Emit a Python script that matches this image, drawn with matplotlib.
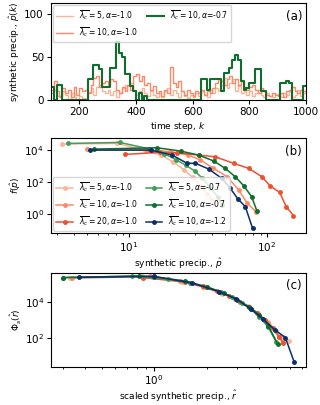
import numpy as np
import matplotlib
matplotlib.use("Agg")
import matplotlib.pyplot as plt
from matplotlib.ticker import NullLocator

# ---- panel (a): synthetic precipitation time series (value per 10 time steps)
T_START, T_STEP = 100, 10
SERIES_A_LABELS = [
    r"$\overline{\lambda_c}=5, \alpha$=-1.0",
    r"$\overline{\lambda_c}=10, \alpha$=-1.0",
    r"$\overline{\lambda_c}=10, \alpha$=-0.7",
]
P_L5_A10 = [8, 12, 5, 3, 10, 6, 0, 8, 4, 0,
            5, 2, 0, 9, 14, 6, 15, 18, 10, 8,
            12, 6, 10, 4, 8, 14, 18, 16, 20, 12,
            6, 10, 14, 8, 5, 10, 6, 3, 8, 4,
            10, 14, 6, 12, 8, 4, 10, 5, 2, 6,
            3, 8, 5, 10, 6, 4, 12, 8, 14, 10,
            18, 26, 14, 20, 25, 10, 16, 8, 12, 6,
            10, 5, 8, 12, 6, 3, 8, 5, 4, 7,
            5, 3, 8, 6, 10, 4, 6, 12, 5, 8]
P_L10_A10 = [12, 22, 10, 5, 14, 8, 12, 4, 15, 6,
             14, 10, 12, 8, 18, 26, 28, 15, 20, 22,
             18, 25, 22, 12, 8, 15, 10, 18, 12, 28,
             30, 22, 28, 18, 20, 12, 16, 8, 10, 5,
             12, 8, 38, 20, 15, 22, 10, 6, 12, 8,
             5, 10, 8, 12, 6, 10, 8, 14, 20, 25,
             22, 18, 24, 28, 20, 25, 18, 22, 15, 12,
             15, 18, 12, 8, 14, 10, 6, 5, 8, 6,
             5, 8, 4, 10, 12, 15, 10, 8, 12, 10]
P_L10_A07 = [15, 0, 18, 18, 0, 0, 0, 0, 0, 0,
             0, 0, 0, 24, 24, 41, 41, 36, 15, 15,
             15, 37, 37, 67, 55, 50, 30, 30, 16, 10,
             0, 8, 0, 5, 0, 0, 0, 0, 0, 0,
             0, 0, 0, 0, 0, 0, 0, 0, 0, 0,
             0, 0, 0, 24, 24, 12, 24, 24, 24, 24,
             10, 31, 31, 37, 46, 52, 46, 22, 12, 14,
             20, 20, 36, 36, 10, 10, 0, 0, 0, 0,
             0, 20, 20, 22, 20, 0, 0, 0, 0, 16]

# ---- panel (b): distributions f(p)
LABELS_B = [
    r"$\overline{\lambda_c}=5, \alpha$=-1.0",
    r"$\overline{\lambda_c}=10, \alpha$=-1.0",
    r"$\overline{\lambda_c}=20, \alpha$=-1.0",
    r"$\overline{\lambda_c}=5, \alpha$=-0.7",
    r"$\overline{\lambda_c}=10, \alpha$=-0.7",
    r"$\overline{\lambda_c}=10, \alpha$=-1.2",
]
P_B = [
    [3.3, 8.2, 13.0, 17.0, 21.0, 25.0, 29.0, 33.0, 37.0, 40.0],
    [5.0, 13.6, 20.0, 27.0, 33.0, 41.0, 51.5, 62.5, 72.0, 84.0],
    [9.3, 16.9, 22.4, 32.0, 42.4, 57.4, 73.8, 92.0, 106.0, 124.0, 138.0, 156.0],
    [3.6, 8.6, 14.0, 18.0, 22.0, 26.0, 30.0, 34.0, 39.0, 44.0, 47.0],
    [5.6, 16.0, 23.7, 32.0, 41.2, 50.0, 59.0, 68.0, 77.5, 85.0],
    [5.2, 14.4, 20.6, 26.4, 30.4, 37.9, 47.3, 54.3, 61.6, 69.8, 78.9],
]
F_B = [
    [2.4e4, 2.6e4, 1.0e4, 5.0e3, 1.8e3, 6.0e2, 2.0e2, 60, 18, 8],
    [1.1e4, 1.0e4, 8.0e3, 4.9e3, 2.4e3, 7.3e2, 2.2e2, 33, 4.9, 1.35],
    [5.4e3, 7.2e3, 6.8e3, 4.9e3, 3.8e3, 1.5e3, 7.3e2, 2.2e2, 57, 23, 3.0, 0.83],
    [2.6e4, 3.0e4, 1.2e4, 6.0e3, 2.5e3, 1.1e3, 5.0e2, 1.8e2, 45, 12, 4],
    [1.15e4, 1.4e4, 8.7e3, 4.9e3, 2.1e3, 7.2e2, 2.2e2, 60, 12.6, 1.5],
    [1.0e4, 1.0e4, 4.9e3, 1.5e3, 1.5e3, 6.6e2, 1.7e2, 42, 9.1, 3.0, 0.13],
]

# ---- panel (c): collapsed distributions
R_C = [
    [0.33, 0.85, 1.45, 1.95, 2.45, 2.95, 3.45, 3.95, 4.5, 5.0, 5.5, 5.9],
    [0.34, 0.95, 1.4, 1.9, 2.35, 2.9, 3.6, 4.5, 5.2, 5.45],
    [0.86, 1.5, 1.9, 2.3, 2.7, 3.1, 3.5, 3.9, 4.3, 4.8, 5.2, 5.45],
    [0.3, 0.75, 1.2, 1.6, 2.0, 2.4, 2.8, 3.2, 3.6, 4.0, 4.5, 5.0],
    [0.3, 0.82, 1.0, 1.5, 2.0, 2.5, 3.0, 3.5, 4.0, 4.5, 5.1],
    [0.37, 1.0, 1.64, 2.35, 2.95, 3.6, 4.19, 4.9, 5.64, 6.35],
]
PHI_C = [
    [2.4e5, 3.0e5, 1.5e5, 7.0e4, 3.0e4, 1.5e4, 6.5e3, 2.5e3, 8.0e2, 2.5e2, 1.2e2, 68],
    [2.3e5, 2.9e5, 1.6e5, 7.5e4, 4.0e4, 1.6e4, 4.5e3, 7.0e2, 1.1e2, 60],
    [2.5e5, 1.4e5, 8.0e4, 4.2e4, 2.3e4, 1.1e4, 5.5e3, 2.5e3, 1.0e3, 3.5e2, 1.2e2, 55],
    [2.5e5, 3.0e5, 2.0e5, 1.3e5, 7.5e4, 4.0e4, 2.0e4, 9.0e3, 4.0e3, 1.6e3, 4.0e2, 60],
    [2.5e5, 3.1e5, 2.8e5, 1.6e5, 7.5e4, 3.3e4, 1.4e4, 5.5e3, 2.0e3, 5.0e2, 45],
    [2.6e5, 2.9e5, 1.25e5, 4.1e4, 1.6e4, 4.0e3, 1.2e3, 2.9e2, 1.05e2, 4.2],
]

COLORS = ["#fcb499", "#fb8a6a", "#ef4f2e", "#3f9e58", "#0f6d2d", "#0a2f6b"]

plt.rcParams.update({"font.family": "DejaVu Sans", "font.size": 7})

fig = plt.figure(figsize=(3.2, 4.05), dpi=100)

# ---------------- (a)
ax_a = fig.add_axes([0.159, 0.753, 0.797, 0.240])
t = T_START + T_STEP * np.arange(len(P_L5_A10) + 1)
for vals, col, lw, lab in [(P_L5_A10, COLORS[0], 1.0, SERIES_A_LABELS[0]),
                           (P_L10_A10, COLORS[1], 1.0, SERIES_A_LABELS[1]),
                           (P_L10_A07, COLORS[4], 1.5, SERIES_A_LABELS[2])]:
    ax_a.step(t, list(vals) + [vals[-1]], where="post", color=col, lw=lw, label=lab)
ax_a.set_xlim(100, 1000)
ax_a.set_ylim(0, 113)
ax_a.set_xticks([200, 400, 600, 800, 1000])
ax_a.set_yticks([0, 50, 100])
ax_a.set_xlabel(r"time step, $k$", fontsize=6.5, labelpad=2)
ax_a.set_ylabel(r"synthetic precip., $\hat{p}(k)$", fontsize=6.5, labelpad=2)
ax_a.tick_params(labelsize=7.5, length=3, pad=2)
ax_a.legend(loc="upper left", ncol=2, fontsize=5.5, handlelength=2.2,
            columnspacing=1.2, borderaxespad=0.3, labelspacing=0.5)
ax_a.text(0.985, 0.93, "(a)", transform=ax_a.transAxes, ha="right", va="top", fontsize=8.5)

# ---------------- (b)
ax_b = fig.add_axes([0.159, 0.425, 0.797, 0.234])
for p, f, col, lab in zip(P_B, F_B, COLORS, LABELS_B):
    ax_b.plot(p, f, "-o", color=col, lw=1.1, ms=2.5, label=lab)
ax_b.set_xscale("log")
ax_b.set_yscale("log")
ax_b.set_xlim(2.72, 192)
ax_b.set_ylim(0.069, 5.6e4)
ax_b.set_yticks([1, 1e2, 1e4])
ax_b.yaxis.set_minor_locator(NullLocator())
ax_b.set_xlabel(r"synthetic precip., $\hat{p}$", fontsize=6.5, labelpad=2)
ax_b.set_ylabel(r"$f(\hat{p})$", fontsize=6.5, labelpad=1)
ax_b.tick_params(labelsize=7.5, length=3, pad=2)
ax_b.tick_params(which="minor", length=1.5)
ax_b.legend(loc="lower left", ncol=2, fontsize=5.5, handlelength=2.2,
            columnspacing=1.0, borderaxespad=0.3, labelspacing=0.45,
            bbox_to_anchor=(0.0, 0.0))
ax_b.text(0.985, 0.93, "(b)", transform=ax_b.transAxes, ha="right", va="top", fontsize=8.5)

# ---------------- (c)
ax_c = fig.add_axes([0.159, 0.095, 0.797, 0.232])
for r, phi, col in zip(R_C, PHI_C, COLORS):
    ax_c.plot(r, phi, "-o", color=col, lw=1.1, ms=2.5)
ax_c.set_xscale("log")
ax_c.set_yscale("log")
ax_c.set_xlim(0.256, 7.4)
ax_c.set_ylim(2.45, 4.8e5)
ax_c.set_yticks([1e2, 1e4])
ax_c.yaxis.set_minor_locator(NullLocator())
ax_c.set_xticks([1])
ax_c.set_xlabel(r"scaled synthetic precip., $\hat{r}$", fontsize=6.5, labelpad=1)
ax_c.set_ylabel(r"$\Phi_s(\hat{r})$", fontsize=6.5, labelpad=1)
ax_c.tick_params(labelsize=7.5, length=3, pad=1.5)
ax_c.tick_params(which="minor", length=1.5)
ax_c.text(0.985, 0.93, "(c)", transform=ax_c.transAxes, ha="right", va="top", fontsize=8.5)

fig.savefig("out.png", dpi=100)
